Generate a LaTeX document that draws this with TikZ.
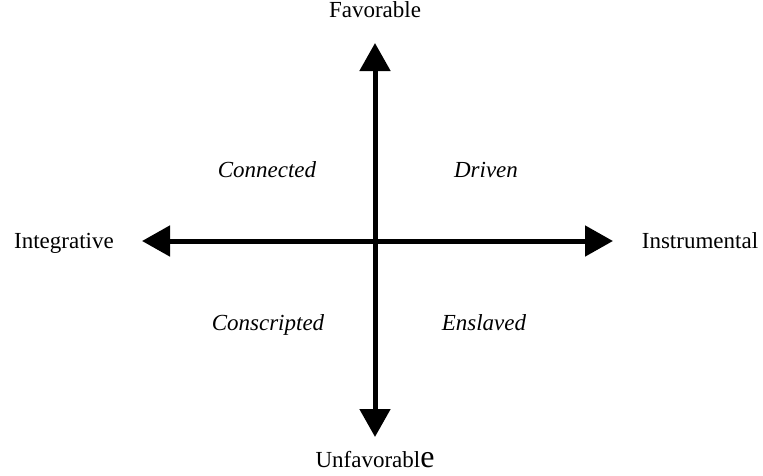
\documentclass[tikz,border=0pt]{standalone}
\usepackage{fontspec}
\setmainfont{Liberation Serif}
\usetikzlibrary{arrows.meta}
\begin{document}
\begin{tikzpicture}[x=1pt,y=-1pt,
  axis/.style={line width=5pt, -{Triangle[length=28pt,width=30pt]}},
  pole/.style={anchor=base, font=\fontsize{23}{27}\selectfont},
  quad/.style={anchor=base, font=\fontsize{23}{27}\selectfont\itshape}]
\useasboundingbox (0,0) rectangle (763,475);
\coordinate (mid) at (375,241);
\coordinate (top) at (375,43);
\coordinate (bot) at (375,437);
\coordinate (lft) at (142,241);
\coordinate (rgt) at (613,241);
\draw[axis] (mid) -- (top);
\draw[axis] (mid) -- (bot);
\draw[axis] (mid) -- (lft);
\draw[axis] (mid) -- (rgt);
\node[pole] (fav) at (375,17){Favorable};
\node[pole] (unfav) at (375,467){Unfavorabl{\fontsize{32}{36}\selectfont e}};
\node[pole] (integ) at (64,248){Integrative};
\node[pole] (instr) at (700,248){Instrumental};
\node[quad] (conn) at (267,177){Connected};
\node[quad] (driv) at (486,177){Driven};
\node[quad] (consc) at (268,330){Conscripted};
\node[quad] (ensl) at (484,330){Enslaved};
\end{tikzpicture}
\end{document}
